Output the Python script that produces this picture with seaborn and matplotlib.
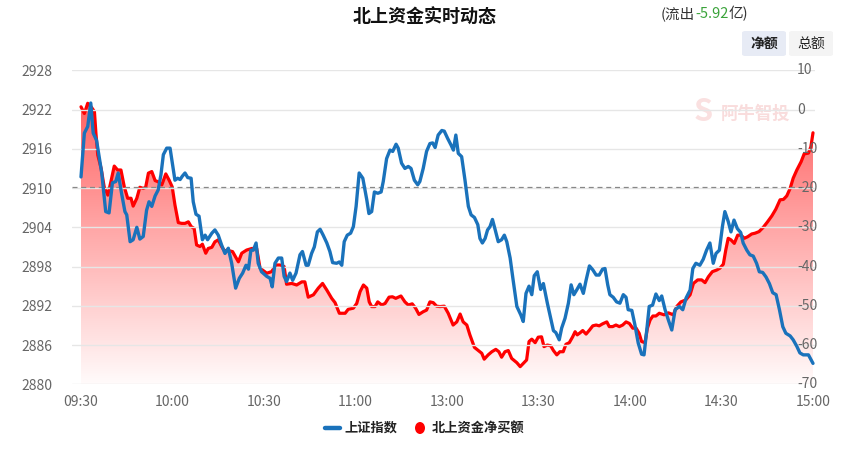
import numpy as np
import pandas as pd
import matplotlib
matplotlib.use("Agg")
import matplotlib.pyplot as plt
import seaborn as sns
from matplotlib.colors import LinearSegmentedColormap
from matplotlib.patches import Polygon, FancyBboxPatch, Ellipse
from matplotlib.lines import Line2D

# ---------------- data ----------------
sh_minutes = [0, 1.1, 2.2, 3.2, 4.0, 5.1, 6.8, 8.1, 9.2, 10.3, 11.4, 12.2, 13.3, 14.4, 15.0, 16.1, 17.1, 18.3,
              19.3, 20.4, 21.5, 22.3, 23.2, 24.3, 25.3, 26.2, 27.0, 28.1, 29.2, 30.1, 30.8, 31.7, 32.5, 33.2,
              34.1, 35.0, 36.1, 36.8, 37.7, 38.7, 39.8, 40.7, 41.5, 42.9, 43.9, 45.0, 46.1, 47.2, 48.3, 49.4,
              50.7, 51.9, 53.0, 54.1, 54.9, 55.7, 56.5, 57.4, 58.1, 59.2, 60.9, 62.0, 62.7, 63.6, 64.7, 65.8,
              66.6, 67.4, 68.5, 69.4, 70.5, 71.8, 72.6, 73.8, 74.5, 75.6, 76.5, 77.5, 78.4, 79.4, 80.6, 81.6,
              82.5, 83.8, 84.7, 85.5, 86.3, 87.3, 88.4, 89.3, 90.2, 91.2, 92.4, 93.7, 94.4, 95.3, 96.2, 97.3,
              98.4, 99.1, 100.2, 101.3, 102.2, 103.3, 104.0, 105.1, 106.2, 107.3, 108.2, 109.3, 110.4, 111.1,
              112.2, 113.3, 114.4, 115.3, 116.1, 117.1, 118.3, 119.1, 120.2, 121.3, 122.1, 122.9, 123.7, 124.8,
              125.9, 127.0, 127.9, 129.0, 130.1, 130.8, 131.6, 132.5, 133.3, 134.1, 134.9, 135.7, 136.8, 137.9,
              138.8, 139.6, 140.7, 141.6, 142.9, 144.2, 145.0, 145.9, 146.9, 147.8, 148.6, 149.6, 150.7, 151.6,
              152.9, 154.0, 154.9, 155.7, 156.8, 157.6, 158.7, 159.8, 160.7, 161.6, 162.5, 163.6, 164.7, 165.6,
              166.7, 167.8, 168.9, 169.9, 171.0, 171.8, 172.7, 173.4, 174.5, 175.6, 176.7, 177.8, 178.7, 179.4,
              180.6, 181.6, 182.7, 183.8, 184.6, 185.5, 186.3, 187.4, 188.5, 189.6, 190.4, 191.5, 192.6, 193.7,
              194.8, 196.2, 197.3, 198.4, 199.7, 200.6, 201.6, 202.9, 204.0, 205.1, 206.2, 207.3, 208.2, 209.3,
              210.3, 211.1, 212.2, 213.1, 214.1, 215.2, 216.3, 217.1, 218.3, 219.3, 220.4, 221.5, 222.4, 223.5,
              224.6, 225.7, 226.8, 227.9, 229.0, 230.1, 231.1, 232.5, 233.5, 234.7, 235.7, 236.8, 238.5, 240.0]
sh_index = [2911.7, 2918.4, 2919.4, 2923.0, 2918.4, 2917.3, 2912.3, 2906.4, 2906.2, 2910.8, 2911.0, 2912.3,
            2909.2, 2906.4, 2905.9, 2901.8, 2902.1, 2904.0, 2902.2, 2902.6, 2906.6, 2907.9, 2907.2, 2908.8,
            2909.7, 2912.0, 2915.1, 2916.1, 2916.1, 2913.3, 2911.2, 2911.5, 2911.3, 2911.8, 2912.3, 2911.6,
            2911.5, 2907.9, 2906.0, 2905.7, 2902.1, 2902.8, 2902.1, 2903.1, 2903.6, 2902.8, 2901.3, 2900.0,
            2900.8, 2898.5, 2894.7, 2896.2, 2897.0, 2898.2, 2897.6, 2900.5, 2900.5, 2901.6, 2898.5, 2897.2,
            2896.5, 2896.2, 2894.9, 2898.5, 2899.3, 2899.3, 2896.5, 2895.7, 2897.0, 2895.9, 2897.0, 2899.8,
            2900.3, 2898.2, 2898.2, 2900.0, 2901.0, 2903.3, 2903.7, 2902.8, 2901.6, 2900.3, 2898.6, 2898.5,
            2898.7, 2898.2, 2901.8, 2902.8, 2903.1, 2904.1, 2907.2, 2912.3, 2911.5, 2908.2, 2906.1, 2906.4,
            2909.4, 2909.2, 2909.4, 2911.0, 2914.5, 2915.8, 2915.6, 2916.7, 2916.1, 2913.8, 2913.0, 2913.3,
            2913.0, 2911.2, 2910.5, 2911.0, 2913.0, 2915.6, 2916.8, 2916.9, 2916.2, 2918.1, 2918.8, 2918.7,
            2917.6, 2916.6, 2915.8, 2918.1, 2915.3, 2914.8, 2911.2, 2907.2, 2905.9, 2905.5, 2904.4, 2902.3,
            2901.6, 2902.3, 2903.6, 2904.1, 2905.2, 2903.8, 2901.8, 2902.1, 2902.8, 2901.8, 2899.3, 2896.2,
            2891.9, 2890.6, 2889.6, 2893.9, 2895.0, 2893.7, 2896.6, 2897.2, 2894.5, 2895.4, 2892.4, 2890.1,
            2888.2, 2887.9, 2886.8, 2888.6, 2890.1, 2892.4, 2895.2, 2893.7, 2894.4, 2895.3, 2893.9, 2895.9,
            2898.1, 2897.5, 2896.7, 2896.7, 2897.6, 2897.7, 2895.2, 2893.7, 2893.3, 2892.6, 2892.4, 2893.7,
            2893.3, 2891.4, 2891.3, 2889.1, 2886.3, 2884.6, 2884.5, 2888.3, 2891.9, 2892.1, 2893.8, 2892.8,
            2893.5, 2891.4, 2889.8, 2888.3, 2891.4, 2891.9, 2891.4, 2893.2, 2894.4, 2897.7, 2898.5, 2898.2,
            2899.1, 2900.5, 2901.6, 2898.5, 2900.0, 2900.5, 2904.1, 2906.4, 2904.9, 2903.3, 2905.1, 2903.8,
            2903.2, 2901.6, 2900.5, 2899.8, 2899.6, 2898.5, 2897.2, 2897.1, 2896.4, 2895.4, 2894.0, 2893.7,
            2891.4, 2888.8, 2887.8, 2887.4, 2886.8, 2885.8, 2884.8, 2884.5, 2884.5, 2883.2]

nb_minutes = [0, 1.1, 2.2, 3.3, 4.4, 4.9, 5.5, 6.6, 7.6, 8.8, 9.8, 10.9, 12.0, 13.1, 14.2, 15.3, 16.4, 17.1,
              18.3, 19.3, 20.4, 21.2, 22.1, 23.2, 24.3, 25.3, 26.5, 27.8, 28.9, 29.9, 30.8, 31.9, 33.0, 34.1,
              35.2, 36.1, 37.1, 37.9, 39.0, 39.8, 40.9, 41.7, 42.9, 43.9, 45.0, 46.1, 47.2, 47.8, 49.7, 51.6,
              52.7, 54.3, 56.0, 57.6, 58.7, 60.9, 62.5, 63.9, 65.2, 66.6, 67.4, 69.1, 70.7, 72.4, 73.4, 74.5,
              76.2, 77.8, 79.2, 80.6, 82.2, 83.3, 84.7, 86.6, 87.6, 89.3, 90.4, 91.5, 92.6, 93.7, 94.5, 95.3,
              96.4, 97.3, 98.6, 99.7, 101.0, 102.1, 103.2, 104.9, 106.2, 107.3, 108.6, 109.7, 110.8, 112.2,
              113.3, 114.4, 115.5, 116.6, 117.7, 119.1, 120.4, 122.0, 123.2, 124.3, 125.3, 126.5, 127.5, 129.0,
              130.3, 131.4, 132.2, 133.5, 134.7, 136.0, 137.0, 137.9, 139.0, 140.1, 141.2, 142.9, 144.0, 145.0,
              146.1, 146.9, 147.8, 148.9, 149.9, 151.0, 151.8, 152.9, 154.0, 154.9, 156.0, 157.0, 158.1, 159.0,
              160.1, 161.2, 162.0, 162.7, 163.6, 164.5, 165.6, 166.7, 167.8, 168.9, 169.9, 171.0, 172.4, 173.2,
              174.3, 175.4, 176.5, 177.6, 178.7, 179.8, 180.9, 182.0, 183.0, 183.8, 184.9, 185.7, 186.6, 187.5,
              188.5, 189.6, 191.2, 192.6, 194.2, 195.3, 196.7, 198.3, 199.7, 200.8, 202.2, 203.5, 204.6, 205.7,
              207.0, 208.4, 209.5, 210.6, 211.4, 212.2, 213.1, 214.2, 215.3, 216.4, 217.5, 218.6, 219.9, 221.0,
              222.3, 223.7, 225.1, 226.5, 227.8, 229.2, 230.3, 231.4, 232.5, 233.5, 234.7, 236.1, 237.1, 238.5,
              239.3, 240.0]
nb_net_buy = [0.7, -1.0, 1.6, 0.7, -0.5, -6.1, -11.6, -15.0, -19.7, -21.8, -18.4, -14.4, -15.4, -15.4, -19.7,
              -22.6, -22.6, -24.6, -22.6, -19.8, -20.1, -19.8, -16.2, -15.8, -18.1, -18.4, -19.2, -16.4, -18.0,
              -19.7, -24.3, -28.8, -29.0, -29.0, -28.6, -29.8, -30.3, -34.5, -34.9, -34.3, -36.6, -35.4, -35.1,
              -33.7, -33.2, -34.9, -36.2, -35.8, -36.2, -38.8, -36.6, -35.8, -35.4, -35.4, -40.4, -41.7, -41.3,
              -39.6, -39.6, -40.0, -44.5, -44.3, -44.7, -43.9, -43.9, -47.8, -47.2, -45.5, -44.3, -46.0, -48.1,
              -49.2, -51.9, -51.9, -50.9, -50.6, -49.4, -46.4, -44.7, -45.5, -49.0, -50.2, -50.2, -49.0, -49.8,
              -49.4, -47.8, -47.7, -48.1, -47.5, -49.0, -49.8, -49.5, -50.6, -52.2, -51.5, -51.1, -49.0, -49.2,
              -50.1, -50.2, -50.1, -51.9, -54.9, -54.1, -52.1, -54.1, -54.9, -57.4, -60.6, -61.4, -62.1, -63.6,
              -62.5, -61.7, -61.1, -61.7, -63.1, -61.7, -61.4, -63.4, -64.5, -65.5, -64.7, -63.8, -59.1, -58.5,
              -59.4, -58.0, -57.9, -60.4, -60.0, -60.2, -61.4, -62.5, -61.7, -61.7, -59.8, -59.4, -57.9, -56.6,
              -57.4, -56.9, -56.3, -57.2, -56.2, -55.1, -54.9, -55.1, -54.6, -54.1, -55.3, -55.3, -54.9, -55.3,
              -54.9, -54.1, -54.5, -55.7, -55.7, -57.0, -59.1, -59.4, -55.7, -53.6, -52.6, -52.6, -51.9, -52.3,
              -51.8, -52.3, -50.2, -49.0, -48.5, -47.2, -44.3, -43.4, -43.4, -44.1, -42.6, -41.3, -40.9, -40.4,
              -39.4, -35.8, -32.8, -33.2, -34.1, -32.0, -32.0, -32.8, -32.4, -31.7, -31.5, -31.1, -30.0, -28.6,
              -27.1, -25.4, -23.0, -22.9, -22.0, -20.1, -17.5, -15.4, -13.3, -11.3, -11.1, -9.5, -5.92]

tick_minutes = [0, 30, 60, 90, 120, 150, 180, 210, 240]
tick_labels = ["09:30", "10:00", "10:30", "11:00", "13:00", "13:30", "14:00", "14:30", "15:00"]
left_ticks = [2880, 2886, 2892, 2898, 2904, 2910, 2916, 2922, 2928]
right_ticks = [-70, -60, -50, -40, -30, -20, -10, 0, 10]
prev_close = 2910.2
net_flow_text = "-5.92"

# ---------------- style ----------------
sns.set_style("white")
FONT = ["Noto Sans CJK SC", "DejaVu Sans"]
plt.rcParams["font.family"] = FONT
plt.rcParams["axes.unicode_minus"] = False

W, H = 855, 451
fig = plt.figure(figsize=(W / 100, H / 100), dpi=100)

def fx(x):
    return x / W

def fy(y):
    return 1 - y / H

ax_l, ax_r, ax_t, ax_b = 72, 815, 70.3, 384.3
ax = fig.add_axes([fx(ax_l), fy(ax_b), fx(ax_r) - fx(ax_l), fy(ax_t) - fy(ax_b)])
ax2 = ax.twinx()

BLUE = "#1a72bb"
RED = "#ff0000"

sh_df = pd.DataFrame({"minute": sh_minutes, "index": sh_index})
nb_df = pd.DataFrame({"minute": nb_minutes, "net": nb_net_buy})

# red net-buy on secondary axis (drawn beneath)
ymin2, ymax2 = -70, 10
xs = np.array(nb_minutes, dtype=float)
ys = np.array(nb_net_buy, dtype=float)
verts = [(xs[0], ymin2)] + list(zip(xs, ys)) + [(xs[-1], ymin2)]
poly = Polygon(verts, closed=True, facecolor="none", edgecolor="none")
ax2.add_patch(poly)
cmap = LinearSegmentedColormap.from_list(
    "rf", [(1, 0, 0, 0.02), (1, 0, 0, 0.62)])
grad = np.linspace(1, 0, 256).reshape(-1, 1)
img = ax2.imshow(grad, extent=[xs[0], xs[-1], ymin2, ys.max()], aspect="auto",
                 cmap=cmap, origin="upper", zorder=1, interpolation="bilinear")
img.set_clip_path(poly)
sns.lineplot(data=nb_df, x="minute", y="net", ax=ax2, color=RED, lw=2.3, zorder=3,
             estimator=None, sort=False)

# blue index on primary axis
sns.lineplot(data=sh_df, x="minute", y="index", ax=ax, color=BLUE, lw=2.4, zorder=4,
             estimator=None, sort=False)
ax.axhline(prev_close, color="#888888", lw=0.9, ls=(0, (4, 3)), zorder=2)

ax.set_zorder(ax2.get_zorder() + 1)
ax.patch.set_visible(False)

xlim = (0 - (81 - ax_l) / 3.05, 240 + (ax_r - 813) / 3.05)
for a in (ax, ax2):
    a.set_xlim(*xlim)
    for s in a.spines.values():
        s.set_visible(False)
ax.set_ylim(2880, 2928)
ax2.set_ylim(ymin2, ymax2)

ax.set_yticks(left_ticks)
ax.set_yticklabels([str(t) for t in left_ticks])
ax2.set_yticks(right_ticks)
ax2.set_yticklabels([])
ax.set_xticks(tick_minutes)
ax.set_xticklabels(tick_labels)

ax.grid(axis="y", color="#e6e6e6", lw=1.0)
ax.grid(axis="x", visible=False)
ax2.grid(False)
ax.tick_params(axis="y", length=0, pad=14, labelsize=10, labelcolor="#666666")
ax.tick_params(axis="x", length=0, pad=8, labelsize=10, labelcolor="#666666")
ax2.tick_params(axis="y", length=0)
ax.set_xlabel("")
ax.set_ylabel("")
ax2.set_ylabel("")
ax2.set_xlabel("")

# right-axis labels drawn above the lines (as in the reference)
for t in right_ticks:
    ax.text(797, t, str(t), transform=ax2.get_yaxis_transform().__class__(
        fig.transFigure, ax2.transData) if False else
        matplotlib.transforms.blended_transform_factory(
            matplotlib.transforms.IdentityTransform(), ax2.transData),
        ha="left", va="center", fontsize=10, color="#666666", zorder=10, family=FONT,
        clip_on=False)

# ---------------- texts ----------------
fig.text(fx(425), fy(17), "北上资金实时动态", ha="center", va="center",
         fontsize=13, fontweight="bold", color="#111111", family=FONT)

t1 = fig.text(fx(661), fy(14), "(流出", ha="left", va="center", fontsize=10.5, color="#333333", family=FONT)
fig.canvas.draw()
r = fig.canvas.get_renderer()
bb = t1.get_window_extent(r)
t2 = fig.text(bb.x1 / W, fy(14), net_flow_text, ha="left", va="center", fontsize=10.5,
              color="#3aa33a", family=FONT)
bb2 = t2.get_window_extent(r)
fig.text(bb2.x1 / W, fy(14), "亿)", ha="left", va="center", fontsize=10.5, color="#333333", family=FONT)

# buttons
for (x0, x1, label, bg, bold) in [(742, 786, "净额", "#e7ebf5", True), (789, 833, "总额", "#f4f4f4", False)]:
    fig.patches.append(FancyBboxPatch((fx(x0), fy(56)), fx(x1) - fx(x0), fy(31) - fy(56),
                                      boxstyle="round,pad=0,rounding_size=0.004",
                                      transform=fig.transFigure, facecolor=bg, edgecolor="none"))
    fig.text(fx((x0 + x1) / 2), fy(43.5), label, ha="center", va="center", fontsize=10,
             color="#222222", fontweight="bold" if bold else "normal", family=FONT)

# watermark
fig.text(fx(703), fy(112), "S", ha="center", va="center", fontsize=22, fontstyle="italic",
         fontweight="bold", color="#fae0e0", family=FONT, zorder=0)
fig.text(fx(755), fy(114), "阿牛智投", ha="center", va="center", fontsize=12.5,
         fontweight="bold", color="#f9dcdc", family=FONT, zorder=0)

# legend
fig.lines.append(Line2D([fx(325), fx(340)], [fy(428), fy(428)], transform=fig.transFigure,
                        color=BLUE, lw=3.2, solid_capstyle="round"))
fig.text(fx(344), fy(428), "上证指数", ha="left", va="center", fontsize=9.5, color="#222222",
         fontweight="bold", family=FONT)
fig.patches.append(Ellipse((fx(420), fy(428)), fx(10), 12 / H, transform=fig.transFigure,
                           facecolor=RED, edgecolor="none"))
fig.text(fx(432), fy(428), "北上资金净买额", ha="left", va="center", fontsize=9.5, color="#222222",
         fontweight="bold", family=FONT)

fig.savefig("out.png", dpi=100)
